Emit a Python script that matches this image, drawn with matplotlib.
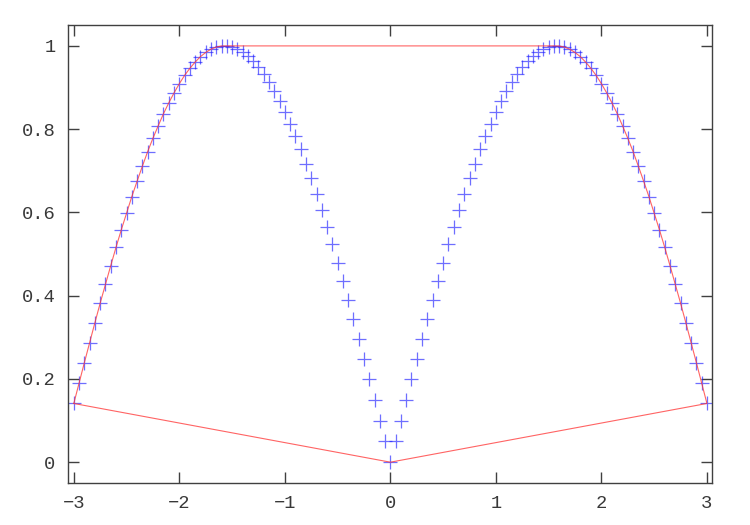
import numpy as np
import matplotlib
matplotlib.use("Agg")
import matplotlib.pyplot as plt

# sample positions (step: 0.05 from -3 to 3)
x_pos = [0.00, 0.05, 0.10, 0.15, 0.20, 0.25, 0.30, 0.35, 0.40, 0.45,
         0.50, 0.55, 0.60, 0.65, 0.70, 0.75, 0.80, 0.85, 0.90, 0.95,
         1.00, 1.05, 1.10, 1.15, 1.20, 1.25, 1.30, 1.35, 1.40, 1.45,
         1.50, 1.55, 1.60, 1.65, 1.70, 1.75, 1.80, 1.85, 1.90, 1.95,
         2.00, 2.05, 2.10, 2.15, 2.20, 2.25, 2.30, 2.35, 2.40, 2.45,
         2.50, 2.55, 2.60, 2.65, 2.70, 2.75, 2.80, 2.85, 2.90, 2.95, 3.00]
y_pos = [0.000, 0.050, 0.100, 0.149, 0.199, 0.247, 0.296, 0.343, 0.389, 0.435,
         0.479, 0.523, 0.565, 0.605, 0.644, 0.682, 0.717, 0.751, 0.783, 0.813,
         0.841, 0.867, 0.891, 0.913, 0.932, 0.949, 0.964, 0.976, 0.985, 0.993,
         0.997, 0.9998, 0.9996, 0.997, 0.992, 0.984, 0.974, 0.961, 0.946, 0.929,
         0.909, 0.887, 0.863, 0.837, 0.808, 0.778, 0.746, 0.711, 0.675, 0.638,
         0.598, 0.558, 0.516, 0.472, 0.427, 0.382, 0.335, 0.287, 0.239, 0.190, 0.141]

x_ticks = [-3, -2, -1, 0, 1, 2, 3]
y_ticks = [0, 0.2, 0.4, 0.6, 0.8, 1]
y_tick_labels = ["0", "0.2", "0.4", "0.6", "0.8", "1"]

# full point set (mirror of the positive half)
xs = [-v for v in x_pos[:0:-1]] + x_pos
ys = y_pos[:0:-1] + y_pos
pts = sorted(zip(xs, ys))

def cross(o, a, b):
    return (a[0]-o[0])*(b[1]-o[1]) - (a[1]-o[1])*(b[0]-o[0])

lower, upper = [], []
for p in pts:
    while len(lower) >= 2 and cross(lower[-2], lower[-1], p) <= 0:
        lower.pop()
    lower.append(p)
for p in reversed(pts):
    while len(upper) >= 2 and cross(upper[-2], upper[-1], p) <= 0:
        upper.pop()
    upper.append(p)
hull = lower[:-1] + upper
hx = [p[0] for p in hull]
hy = [p[1] for p in hull]

plt.rcParams['font.family'] = ['Liberation Mono', 'DejaVu Sans Mono']
fig = plt.figure(figsize=(7.5, 5.25), dpi=100)
ax = fig.add_axes([68/750, 1-483/525, (712-68)/750, (483-25)/525])

ax.plot(xs, ys, linestyle='none', marker='+', markersize=9.5,
        markeredgewidth=0.9, color='#2020ff', alpha=0.65)
ax.plot(hx, hy, color='#ff3030', lw=0.8, alpha=0.75)

ax.set_xlim(-3.055, 3.048)
ax.set_ylim(-0.05, 1.05)
ax.set_xticks(x_ticks)
ax.set_xticklabels([str(t).replace('-', '\u2212') for t in x_ticks])
ax.set_yticks(y_ticks)
ax.set_yticklabels(y_tick_labels)
ax.tick_params(direction='in', length=8, width=1, color='#404040',
               top=True, right=True, labelsize=13.5, labelcolor='#383838', pad=9)
for s in ax.spines.values():
    s.set_color('#404040')
    s.set_linewidth(1)

fig.savefig('out.png', dpi=100)
